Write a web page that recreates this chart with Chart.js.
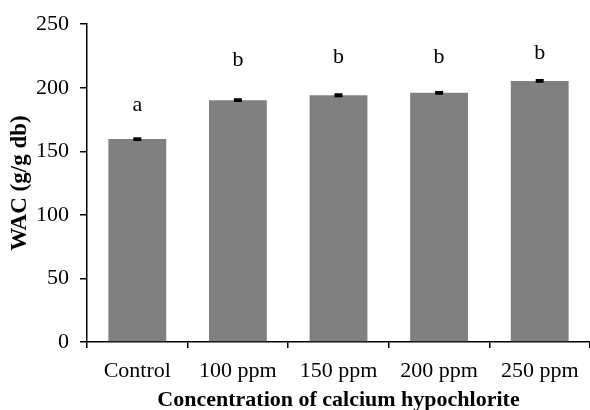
<!DOCTYPE html>
<html>
<head>
<meta charset="utf-8">
<script src="https://cdn.jsdelivr.net/npm/chart.js@4.4.1/dist/chart.umd.min.js"></script>
<style>
  body { margin: 0; background: #fff; }
  #wrap { width: 590px; height: 410px; }
</style>
</head>
<body>
<div id="wrap"><canvas id="wacChart" width="590" height="410"></canvas></div>
<script>
// values
const categories = ['Control', '100 ppm', '150 ppm', '200 ppm', '250 ppm'];
const wacValues = [159.6, 190.2, 194.1, 196, 205.4];
const wacErrors = [0.7, 0.7, 0.7, 0.7, 0.7];
const sigLetters = ['a', 'b', 'b', 'b', 'b'];
const letterLevels = [181.6, 217.2, 219.2, 219.2, 222.4];
const yTicks = [0, 50, 100, 150, 200, 250];

const serif = "'Liberation Serif', 'Times New Roman', serif";

// error bars + significance letters on top of bars
const extras = {
    id: 'extras',
    afterDatasetsDraw(chart) {
        const ctx = chart.ctx;
        const x = chart.scales.x;
        const y = chart.scales.y;
        ctx.save();
        ctx.strokeStyle = '#000';
        ctx.lineWidth = 2;
        wacValues.forEach((v, i) => {
            const px = x.getPixelForValue(i);
            const top = y.getPixelForValue(v + wacErrors[i]);
            const bot = y.getPixelForValue(v - wacErrors[i]);
            ctx.beginPath();
            ctx.moveTo(px, top); ctx.lineTo(px, bot);
            ctx.moveTo(px - 4, top); ctx.lineTo(px + 4, top);
            ctx.moveTo(px - 4, bot); ctx.lineTo(px + 4, bot);
            ctx.stroke();
        });
        ctx.fillStyle = '#000';
        ctx.font = '22px ' + serif;
        ctx.textAlign = 'center';
        ctx.textBaseline = 'alphabetic';
        sigLetters.forEach((l, i) => {
            ctx.fillText(l, x.getPixelForValue(i), y.getPixelForValue(letterLevels[i]));
        });
        ctx.restore();
    }
};

const ctx = document.getElementById('wacChart').getContext('2d');
const wacChart = new Chart(ctx, {
    type: 'bar',
    data: {
        labels: categories,
        datasets: [{
            data: wacValues,
            backgroundColor: '#808080',
            borderWidth: 0,
            categoryPercentage: 1,
            barPercentage: 0.575
        }]
    },
    options: {
        responsive: false,
        animation: false,
        layout: { padding: { top: 23, right: 0, left: 0, bottom: 0 } },
        plugins: {
            legend: { display: false },
            tooltip: { enabled: false }
        },
        scales: {
            x: {
                grid: { drawOnChartArea: false, drawTicks: true, tickLength: 6, color: '#000', lineWidth: 1.5 },
                border: { color: '#000', width: 1.5 },
                ticks: { color: '#000', font: { family: serif, size: 22 }, padding: 10, maxRotation: 0 },
                title: {
                    display: true,
                    text: 'Concentration of calcium hypochlorite',
                    color: '#000',
                    font: { family: serif, size: 22, weight: 'bold' },
                    padding: { top: 0, bottom: -4 }
                },
                afterFit(scale) { scale.height = 68; }
            },
            y: {
                min: 0,
                max: 250,
                afterBuildTicks(scale) { scale.ticks = yTicks.map(v => ({ value: v })); },
                grid: { drawOnChartArea: false, drawTicks: true, tickLength: 7, color: '#000', lineWidth: 1.5 },
                border: { color: '#000', width: 1.5 },
                ticks: { color: '#000', font: { family: serif, size: 22 }, padding: 11 },
                title: {
                    display: true,
                    text: 'WAC (g/g db)',
                    color: '#000',
                    font: { family: serif, size: 23, weight: 'bold' },
                    padding: { top: 6, bottom: 0 }
                },
                afterFit(scale) { scale.width = 87; }
            }
        }
    },
    plugins: [extras]
});
</script>
</body>
</html>
